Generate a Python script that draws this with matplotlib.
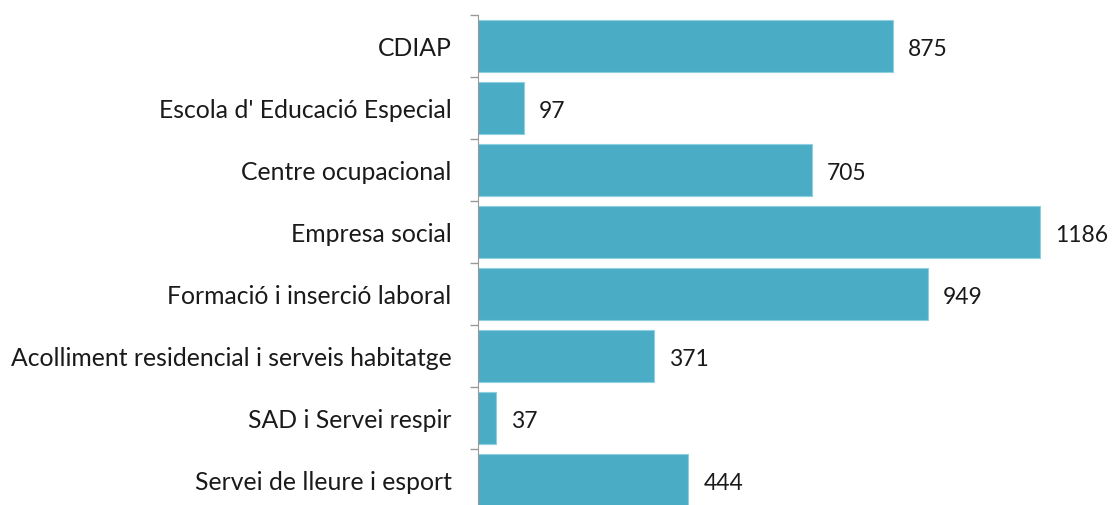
import matplotlib.pyplot as plt

categories = ['CDIAP', "Escola d' Educació Especial", 'Centre ocupacional',
              'Empresa social', 'Formació i inserció laboral',
              'Acolliment residencial i serveis habitatge',
              'SAD i Servei respir', 'Servei de lleure i esport']
values = [875, 97, 705, 1186, 949, 371, 37, 444]

plt.rcParams['font.family'] = ['Lato', 'DejaVu Sans']

fig = plt.figure(figsize=(11.16, 5.05), dpi=100)
ax = fig.add_axes([478 / 1116, -6 / 505, 1 - 478 / 1116, 496 / 505])

ypos = list(range(len(categories)))
ax.barh(ypos, values, height=0.83, color='#4BACC6', edgecolor='#8fd0e0', linewidth=0.8)
ax.set_ylim(len(categories) - 0.5, -0.5)
ax.set_xlim(0, 1346)

for y, v in zip(ypos, values):
    ax.annotate(str(v), (v, y), xytext=(15, -3), textcoords='offset pixels',
                va='center', ha='left', fontsize=16.5, color='#1a1a1a')

ax.set_yticks([y + 0.5 for y in [-1] + ypos])
ax.set_yticklabels([])
ax.set_yticks(ypos, minor=True)
ax.set_yticklabels(categories, minor=True, fontsize=17.8, color='#1a1a1a')
ax.tick_params(axis='y', which='minor', length=0, pad=19)
ax.tick_params(axis='y', which='major', length=6, color='#999999', width=1)
ax.set_xticks([])
for s in ['top', 'right', 'bottom']:
    ax.spines[s].set_visible(False)
ax.spines['left'].set_color('#999999')

fig.savefig('out.png', dpi=100)
